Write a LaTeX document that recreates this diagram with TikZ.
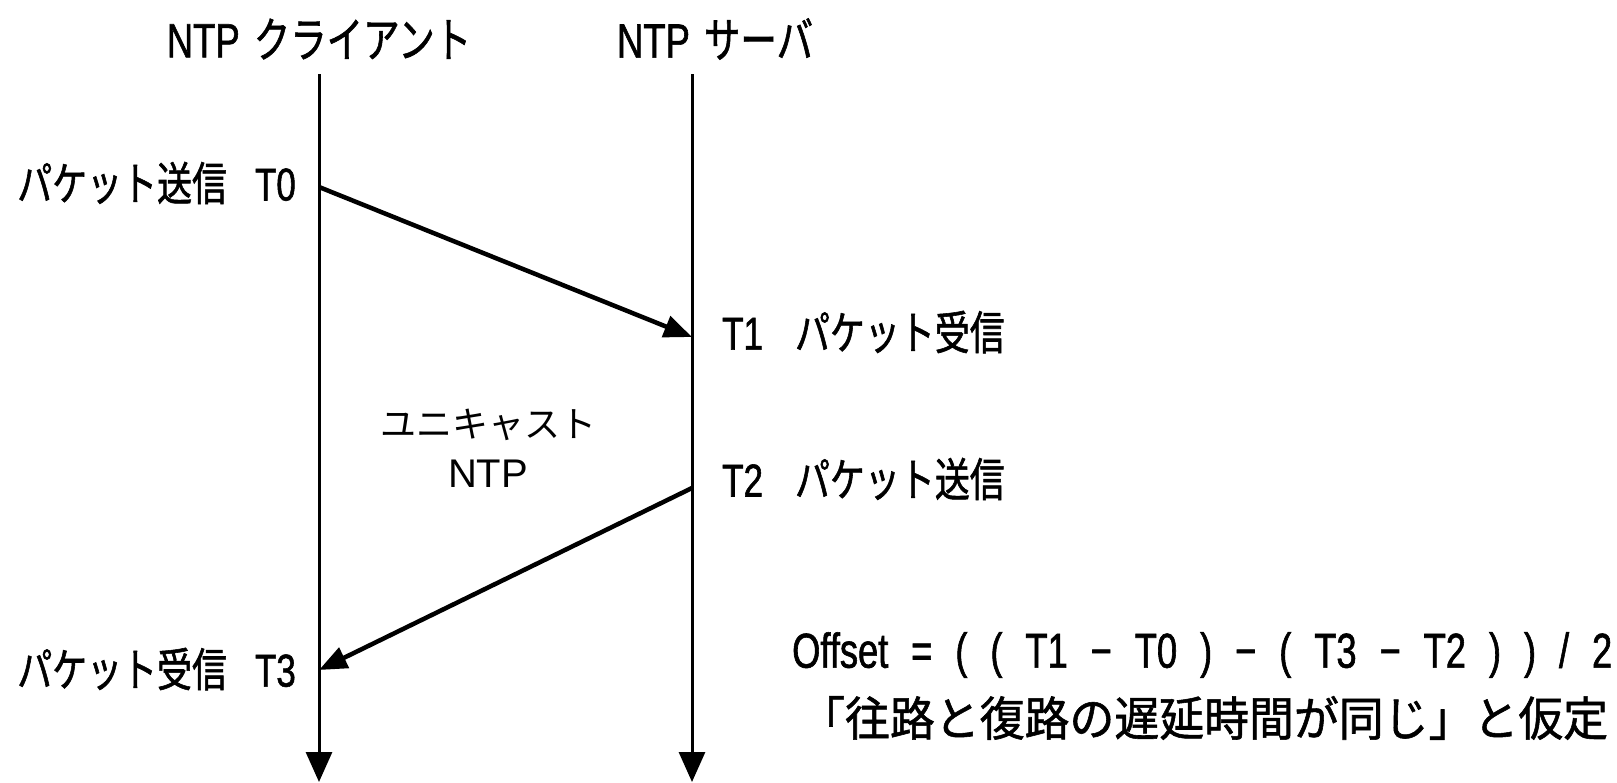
\documentclass[tikz,border=0pt]{standalone}
\usepackage{fontspec}
\usetikzlibrary{arrows.meta}
\newfontfamily\jp[FakeStretch=0.76,FakeBold=1.2]{Noto Sans CJK JP}
\newfontfamily\jpw{Noto Sans CJK JP}
\newfontfamily\jpsp[FakeStretch=0.955,FakeBold=1.2]{Noto Sans CJK JP}
\newfontfamily\lat[FakeStretch=0.76,FakeBold=1.2]{Liberation Sans}
\newfontfamily\latw{Liberation Sans}
\newfontfamily\latf[FakeStretch=0.74,FakeBold=1.2]{Liberation Sans}
\newcommand{\jtxt}[1]{{\jp #1}}
\newcommand{\ltxt}[1]{{\lat #1}}
\begin{document}
\begin{tikzpicture}[x=1pt,y=-1pt,
  lbl/.style={font=\fontsize{46}{50}\selectfont, inner sep=0pt},
  life/.style={line width=3pt, -{Triangle[length=30pt,width=26pt]}},
  msg/.style={line width=4.5pt, -{Triangle[length=28pt,width=22pt]}}]
\useasboundingbox (0,0) rectangle (1617,782);
% lifelines
\coordinate (ctop) at (319,74);
\coordinate (cbot) at (319,782);
\coordinate (stop) at (692,74);
\coordinate (sbot) at (692,782);
\draw[life] (ctop) -- (cbot);
\draw[life] (stop) -- (sbot);
% titles
\node[lbl, font=\fontsize{48}{52}\selectfont] (tc) at (319,39) {\ltxt{NTP}\hspace{14pt}\jtxt{クライアント}};
\node[lbl, font=\fontsize{48}{52}\selectfont] (ts) at (715,39) {\ltxt{NTP}\hspace{14pt}\jtxt{サーバ}};
% message points
\coordinate (t0) at (319,187);
\coordinate (t1) at (692,337);
\coordinate (t2) at (692,488);
\coordinate (t3) at (319,670);
\draw[msg] (t0) -- (t1);
\draw[msg] (t2) -- (t3);
% labels
\node[lbl, anchor=east] (l0) at (296,183) {\jtxt{パケット送信}\hspace{28pt}\ltxt{T0}};
\node[lbl, anchor=west] (l1) at (722,332) {\ltxt{T1}\hspace{32pt}\jtxt{パケット受信}};
\node[lbl, anchor=west] (l2) at (722,479) {\ltxt{T2}\hspace{32pt}\jtxt{パケット送信}};
\node[lbl, anchor=east] (l3) at (296,669) {\jtxt{パケット受信}\hspace{28pt}\ltxt{T3}};
\node[font=\jpw\fontsize{36}{40}\selectfont, inner sep=0pt] (u1) at (488,425) {ユニキャスト};
\node[font=\latw\fontsize{40}{44}\selectfont, inner sep=0pt] (u2) at (488,474) {NTP};
\node[font=\latf\fontsize{49}{53}\selectfont, inner sep=0pt, anchor=west] (off) at (792,655)
  {\makebox[820pt][s]{Offset = ( ( T1 − T0 ) − ( T3 − T2 ) ) / 2}};
\node[font=\jpsp\fontsize{47}{51}\selectfont, inner sep=0pt, anchor=west] (as) at (800,718) {「往路と復路の遅延時間が同じ」と仮定};
\end{tikzpicture}
\end{document}
